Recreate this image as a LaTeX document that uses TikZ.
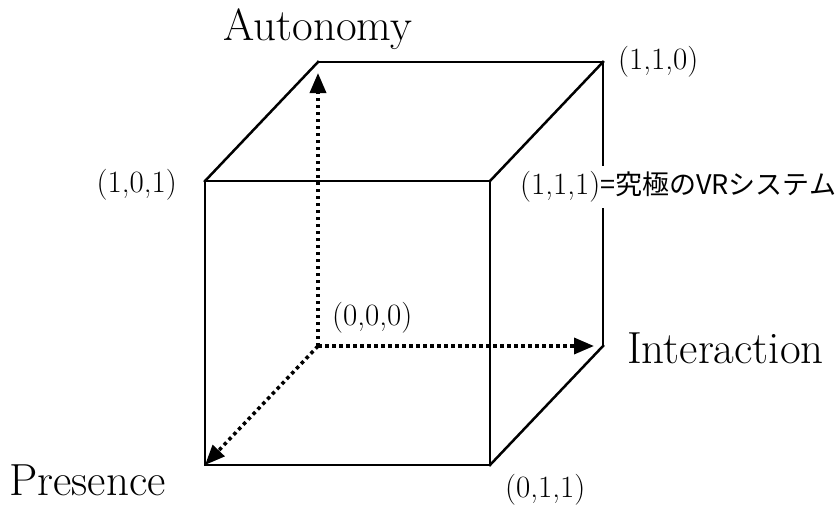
\documentclass[tikz,border=0pt]{standalone}
\usepackage{fontspec}
\newfontfamily\cjk{Noto Sans CJK JP}
\usetikzlibrary{arrows.meta}
\usetikzlibrary{positioning}
\begin{document}
\begin{tikzpicture}[
  x=1pt, y=-1pt,
  edge/.style={line width=2.5pt, line join=miter, line cap=rect},
  axis/.style={line width=3.5pt, dash pattern=on 3.5pt off 3.5pt},
  axislabel/.style={font=\fontsize{45}{50}\selectfont, inner sep=0pt},
  corner/.style={font=\fontsize{31}{34}\selectfont, inner sep=0pt},
]
\tikzset{>={Triangle[length=20pt, width=16pt]}}
\useasboundingbox (0,0) rectangle (838,504);
% cube corners
\coordinate (O) at (318,346);
\coordinate (A) at (318,62);
\coordinate (B) at (603,62);
\coordinate (C) at (603,346);
\coordinate (D) at (205,181);
\coordinate (E) at (490,181);
\coordinate (F) at (490,465);
\coordinate (G) at (205,465);
\coordinate (Atip) at (318,73);
\coordinate (Ctip) at (594,346);

% axes
\draw[axis, ->] (O) to (Atip);
\draw[axis, ->] (O) to (Ctip);
\draw[axis, ->] (O) to (G);

% cube edges
\draw[edge] (A) -- (B) -- (C);
\draw[edge] (A) -- (D);
\draw[edge] (B) -- (E);
\draw[edge] (C) -- (F);
\draw[edge] (D) -- (E) -- (F) -- (G) -- cycle;

% labels
\node[axislabel, anchor=base] (autonomy) at (318,40) {Autonomy};
\node[axislabel, anchor=west] (interaction) at (627,348) {Interaction};
\node[axislabel, anchor=base west] (presence) at (9,495) {Presence};
\node[corner, anchor=west] (p110) at (618,62) {(1,1,0)};
\node[corner, anchor=east] (p101) at (177,185) {(1,0,1)};
\node[corner, anchor=west, fill=white, inner ysep=6pt] (p111) at (520,187) {(1,1,1){\cjk\fontsize{27}{30}\selectfont =究極のVRシステム}};
\node[corner, anchor=west] (p000) at (332,318) {(0,0,0)};
\node[corner, anchor=west] (p011) at (505,490) {(0,1,1)};
\end{tikzpicture}
\end{document}
